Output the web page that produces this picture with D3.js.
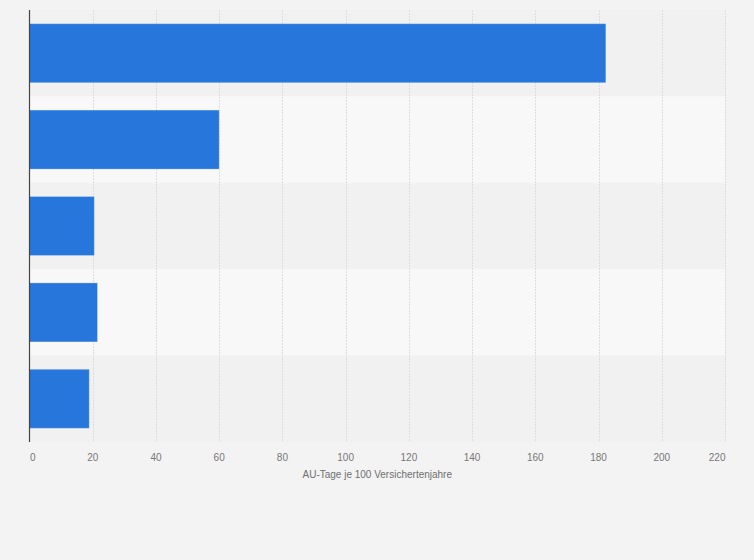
<!DOCTYPE html>
<html>
<head>
<meta charset="utf-8">
<script src="https://cdn.jsdelivr.net/npm/d3@7"></script>
<style>
  html, body { margin: 0; padding: 0; background: #f3f3f3; }
  svg { display: block; font-family: "Liberation Sans", Arial, sans-serif; }
</style>
</head>
<body>
<svg id="chart" width="754" height="560"></svg>
<script>
const width = 754;
const height = 560;

// Werte
const categories = ["Kategorie 1", "Kategorie 2", "Kategorie 3", "Kategorie 4", "Kategorie 5"];
const values = [182.3, 60, 20.5, 21.5, 18.9];
const xTicks = [0, 20, 40, 60, 80, 100, 120, 140, 160, 180, 200, 220];
const xTitle = "AU-Tage je 100 Versichertenjahre";

const plotLeft = 29.5, plotRight = 725, plotTop = 10, plotBottom = 442;

const svg = d3.select("#chart");

svg.append("rect")
    .attr("width", width)
    .attr("height", height)
    .attr("fill", "#f3f3f3");

const x = d3.scaleLinear().domain([0, 220]).range([plotLeft, plotRight]);
const y = d3.scaleBand().domain(categories).range([plotTop, plotBottom]);

// abwechselnde Zeilenhintergruende
svg.append("g").selectAll("rect")
    .data(categories)
    .enter()
    .append("rect")
    .attr("x", plotLeft)
    .attr("y", d => y(d))
    .attr("width", plotRight - plotLeft)
    .attr("height", y.bandwidth())
    .attr("fill", (d, i) => i % 2 ? "#f8f8f8" : "#f1f1f1");

// Gitterlinien
svg.append("g").selectAll("line")
    .data(xTicks.slice(1))
    .enter()
    .append("line")
    .attr("x1", d => Math.round(x(d)) + 0.5)
    .attr("x2", d => Math.round(x(d)) + 0.5)
    .attr("y1", plotTop)
    .attr("y2", plotBottom)
    .attr("stroke", "#dddddd")
    .attr("stroke-dasharray", "2,1");

const barH = y.bandwidth() * 0.683;

svg.append("g").selectAll("rect")
    .data(values)
    .enter()
    .append("rect")
    .attr("x", x(0))
    .attr("y", (d, i) => y(categories[i]) + (y.bandwidth() - barH) / 2)
    .attr("width", d => x(d) - x(0))
    .attr("height", barH)
    .attr("fill", "#2776db")
    .attr("stroke", "rgba(255,255,255,0.25)")
    .attr("stroke-width", 1);

// y-Achsenlinie
svg.append("line")
    .attr("x1", plotLeft)
    .attr("x2", plotLeft)
    .attr("y1", plotTop)
    .attr("y2", plotBottom)
    .attr("stroke", "#444")
    .attr("stroke-width", 1.2);

// x-Achsenbeschriftung
svg.append("g").selectAll("text")
    .data(xTicks)
    .enter()
    .append("text")
    .attr("x", (d, i) => i === 0 || i === xTicks.length - 1 ? x(d) + 0.5 : x(d))
    .attr("y", 460.5)
    .attr("text-anchor", (d, i) => i === 0 ? "start" : (i === xTicks.length - 1 ? "end" : "middle"))
    .attr("font-size", 10)
    .attr("fill", "#777")
    .text(d => d);

svg.append("text")
    .attr("x", (plotLeft + plotRight) / 2)
    .attr("y", 478)
    .attr("text-anchor", "middle")
    .attr("font-size", 10)
    .attr("fill", "#6f6f6f")
    .text(xTitle);
</script>
</body>
</html>
